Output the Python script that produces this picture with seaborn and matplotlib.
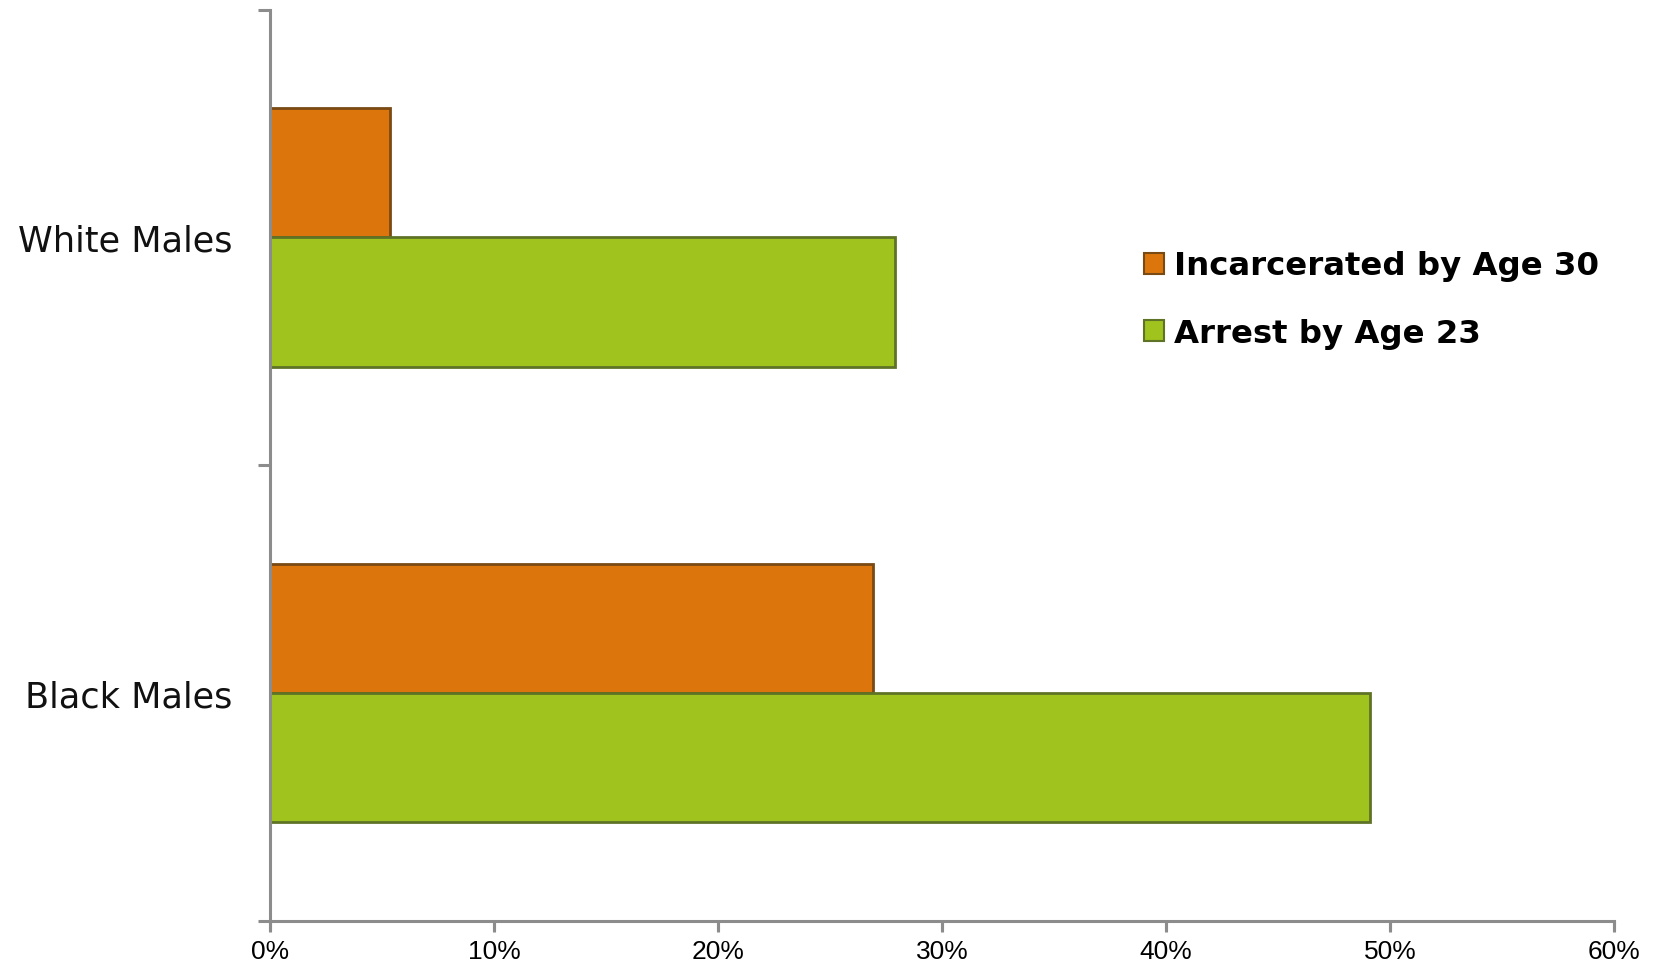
import matplotlib
matplotlib.use("Agg")
import matplotlib.pyplot as plt
import seaborn as sns
import pandas as pd
from matplotlib.ticker import FixedLocator, PercentFormatter

groups = ["White Males", "Black Males"]
series = ["Incarcerated by Age 30", "Arrest by Age 23"]
incarcerated = [5.35, 26.9]
arrest = [27.9, 49.1]
xticks = [0, 10, 20, 30, 40, 50, 60]

colors = ["#DC760C", "#A0C31E"]
edges = ["#7A4A14", "#5F7326"]

df = pd.DataFrame({
    "group": groups * 2,
    "series": [series[0]] * 2 + [series[1]] * 2,
    "value": incarcerated + arrest,
})

sns.set_style("ticks")
fig = plt.figure(figsize=(16.61, 9.705), dpi=100)
ax = fig.add_axes([270 / 1661, 1 - 921 / 970, (1614 - 270) / 1661, (921 - 10) / 970])

sns.barplot(data=df, y="group", x="value", hue="series", order=groups,
            hue_order=series, palette=colors, width=0.567, orient="h",
            ax=ax, saturation=1, legend=True)

for cont, ec in zip(ax.containers, edges):
    for p in cont:
        p.set_edgecolor(ec)
        p.set_linewidth(2.0)

ax.set_xlim(0, 60)
ax.set_ylim(1.5, -0.5)
ax.xaxis.set_major_locator(FixedLocator(xticks))
ax.xaxis.set_major_formatter(PercentFormatter(decimals=0))
ax.set_xlabel("")
ax.set_ylabel("")

for side in ["top", "right"]:
    ax.spines[side].set_visible(False)
for side in ["left", "bottom"]:
    ax.spines[side].set_color("#8C8C8C")
    ax.spines[side].set_linewidth(2.2)

ax.tick_params(axis="x", which="major", bottom=True, direction="out", length=8,
               width=2.2, color="#8C8C8C", pad=5, labelsize=19,
               labelcolor="black")
for lbl in ax.get_xticklabels():
    lbl.set_fontfamily("Liberation Sans")
for t in ax.xaxis.get_major_ticks():
    t.tick1line.set_clip_on(False)
# tick marks along the x axis, drawn at the tick values below the spine
ax.vlines(xticks, 0, -0.0095, transform=ax.get_xaxis_transform(),
          colors="#8C8C8C", linewidth=2.2, clip_on=False, zorder=3)

ax.tick_params(axis="y", which="major", left=True, length=0, pad=27,
               labelsize=25.3, labelcolor="#111111")
ax.yaxis.set_minor_locator(FixedLocator([-0.5, 0.5, 1.5]))
ax.tick_params(axis="y", which="minor", left=True, direction="out", length=9,
               width=2.2, color="#8C8C8C")
for lbl in ax.get_yticklabels():
    lbl.set_fontfamily("DejaVu Sans")

leg = ax.legend(loc="upper left", bbox_to_anchor=(1128 / 1661, 1 - 235 / 970),
                bbox_transform=fig.transFigure, frameon=False,
                prop={"family": "DejaVu Sans", "weight": "bold", "size": 23.3},
                handlelength=0.62, handleheight=0.62, handletextpad=0.3,
                labelspacing=1.12, borderpad=0)
for t in leg.get_texts():
    t.set_color("black")
for h, ec in zip(leg.legend_handles, edges):
    h.set_edgecolor(ec)
    h.set_linewidth(1.5)

fig.savefig("out.png", dpi=100, facecolor="white")
